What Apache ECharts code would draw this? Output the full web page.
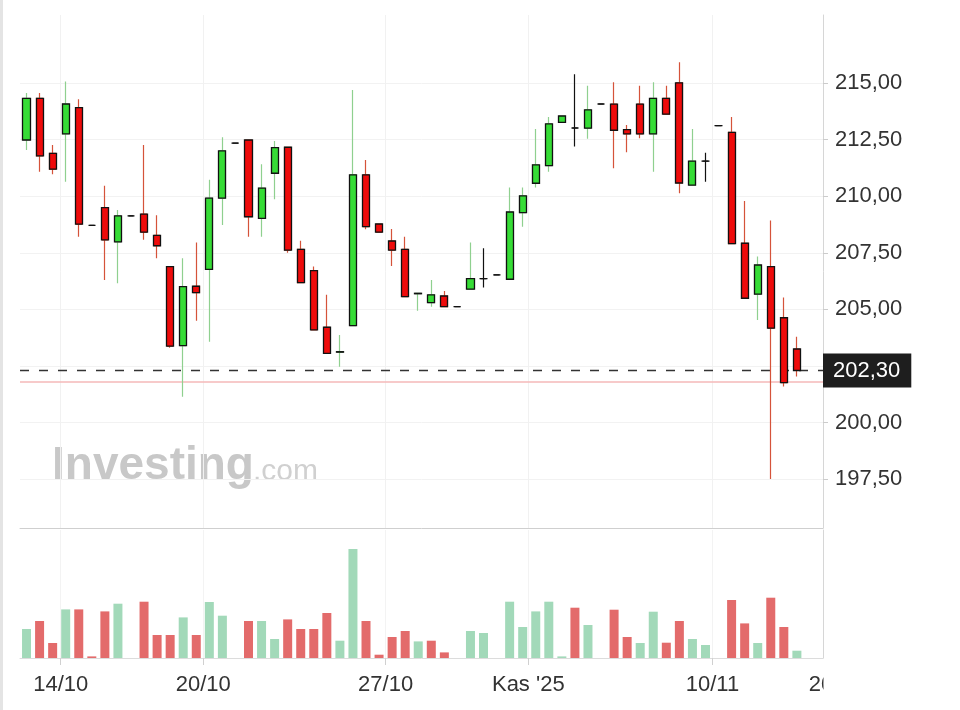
<!DOCTYPE html>
<html><head><meta charset="utf-8">
<script src="https://cdn.jsdelivr.net/npm/echarts@6/dist/echarts.min.js"></script>
<style>html,body{margin:0;padding:0;background:#fff}#c{width:960px;height:710px}</style>
</head><body><div id="c"></div>
<script>
// ---- data ----
const openP  = [212.48,214.32,211.89,212.75,213.91,208.71,209.49,207.98,209.13,209.21,
                208.27,206.89,203.40,206.02,206.77,209.91,212.34,212.48,209.02,211.01,
                212.16,207.65,206.71,204.21,203.11,204.28,210.94,208.77,208.02,207.65,
                205.69,205.30,205.59,205.12,205.89,206.36,206.52,206.33,209.27,210.57,
                211.35,213.26,213.01,213.00,214.07,214.06,212.94,214.06,212.75,214.32,
                215.00,210.49,211.55,213.11,212.82,207.92,205.67,206.89,204.63,203.25];
const highP  = [214.55,214.55,212.26,215.06,214.28,208.71,210.46,209.39,209.13,212.26,
                209.16,206.89,207.26,207.95,210.72,212.60,212.34,212.48,211.41,212.44,
                212.16,208.03,206.89,205.64,203.87,214.69,211.60,208.77,208.55,208.21,
                205.71,206.30,205.81,205.12,207.95,207.70,206.52,210.38,210.38,212.97,
                213.49,213.54,215.38,214.87,214.07,215.03,213.14,214.87,215.03,214.87,
                215.91,212.97,211.92,213.11,213.49,209.79,207.33,208.92,205.52,203.79];
const lowP   = [212.04,211.08,210.97,210.64,208.21,208.71,206.30,206.15,209.13,208.07,
                207.26,203.31,201.14,204.50,203.57,208.73,212.34,208.21,208.21,209.86,
                207.50,206.18,204.09,203.06,202.47,204.28,208.54,208.41,206.92,205.56,
                204.94,205.12,205.12,205.12,205.89,205.96,206.52,206.33,208.65,210.38,
                211.08,213.26,212.19,212.53,214.07,211.23,211.94,212.56,211.08,213.62,
                210.13,210.49,210.64,213.11,207.90,205.49,204.53,197.51,201.59,202.03];
const closeP = [214.32,211.78,211.19,214.07,208.76,208.71,208.07,209.13,209.13,208.41,
                207.81,203.38,206.00,205.74,209.91,212.00,212.34,209.09,210.35,212.14,
                207.62,206.18,204.09,203.06,203.13,210.94,208.65,208.41,207.62,205.56,
                205.71,205.64,205.12,205.12,206.36,206.36,206.52,209.30,210.01,211.38,
                213.19,213.54,213.01,213.81,214.07,212.91,212.75,212.75,214.32,213.62,
                210.58,211.55,211.55,213.11,207.90,205.49,206.96,204.17,201.76,202.30];
const volumeM = [2.90,3.70,1.50,4.86,4.86,0.16,4.66,5.43,0,5.63,
                 2.30,2.30,4.06,2.30,5.60,4.23,0,3.70,3.70,1.90,
                 3.86,2.90,2.90,4.50,1.73,10.90,3.70,0.33,2.10,2.70,
                 1.66,1.73,0.56,0,2.70,2.50,0,5.63,3.10,4.66,
                 5.63,0.16,5.03,3.30,0,4.83,2.10,1.50,4.63,1.53,
                 3.70,1.90,1.30,0,5.80,3.46,1.50,6.03,3.10,0.73];
const xTickLabels = ['14/10', '20/10', '27/10', "Kas '25", '10/11'];
const xTickSlots  = [2.62, 13.53, 27.5, 38.43, 52.53];
const xCutLabel = '20/11';
const xCutSlot  = 61.96;
const yTickValues = [197.5, 200, 202.5, 205, 207.5, 210, 212.5, 215];
const lastPrice = 202.30;
const refLevel  = 201.80;

// ---- styles ----
const BODY_UP = '#36dc36', BODY_DN = '#ee0b0b';
const WICK_UP = '#8fd08f', WICK_DN = '#d5533a';
const VOL_UP = '#a2d9b9', VOL_DN = '#e36b6b';
const FONT = '"Liberation Sans", Arial, sans-serif';
const fmt = v => v.toFixed(2).replace('.', ',');

const N = openP.length;
const wickData = [], bodyData = [], volData = [];
for (let i = 0; i < N; i++) {
  const o = openP[i], c = closeP[i], l = lowP[i], h = highP[i];
  const w = { value: [i, o, c, l, h] };
  if (o === c) w.itemStyle = { borderColor: '#111', borderColor0: '#111', borderColorDoji: '#111' };
  wickData.push(w);
  bodyData.push([i, o, c, Math.min(o, c), Math.max(o, c)]);
  const up = i === 0 || c >= closeP[i - 1];
  volData.push({ value: [i, volumeM[i]], itemStyle: { color: up ? VOL_UP : VOL_DN } });
}

const chart = echarts.init(document.getElementById('c'), null, { renderer: 'canvas' });
const xMin = -0.5, xMax = 61;
const option = {
  animation: false,
  backgroundColor: '#fff',
  textStyle: { fontFamily: FONT },
  grid: [
    { left: 20, right: 137, top: 15, height: 513, outerBoundsMode: 'none', containLabel: false },
    { left: 20, right: 137, top: 530, height: 128, outerBoundsMode: 'none', containLabel: false }
  ],
  xAxis: [
    { type: 'value', gridIndex: 0, min: xMin, max: xMax,
      axisLine: { show: true, onZero: false, lineStyle: { color: '#cfcfcf', width: 1 } },
      axisTick: { show: false, customValues: xTickSlots },
      axisLabel: { show: false },
      splitLine: { show: true, lineStyle: { color: '#f1f1f1', width: 1 } } },
    { type: 'value', gridIndex: 1, min: xMin, max: xMax,
      axisLine: { show: true, onZero: false, lineStyle: { color: '#dcdcdc', width: 1 } },
      axisTick: { show: true, customValues: xTickSlots, length: 7, lineStyle: { color: '#d0d0d0' } },
      axisLabel: { show: true, customValues: xTickSlots, fontSize: 22, color: '#333', margin: 16, fontFamily: FONT,
        formatter: v => { const k = xTickSlots.findIndex(s => Math.abs(s - v) < 1e-6); return k >= 0 ? xTickLabels[k] : ''; } },
      splitLine: { show: true, lineStyle: { color: '#f3f3f3', width: 1 } } }
  ],
  yAxis: [
    { type: 'value', gridIndex: 0, position: 'right', min: 195.344, max: 218,
      axisLine: { show: true, onZero: false, lineStyle: { color: '#d6d6d6', width: 1 } },
      axisTick: { show: true, customValues: yTickValues, length: 5, lineStyle: { color: '#cccccc' } },
      axisLabel: { show: true, customValues: yTickValues, fontSize: 22, color: '#333', margin: 12, fontFamily: FONT,
        formatter: v => fmt(v) },
      splitLine: { show: true, lineStyle: { color: '#f2f2f2', width: 1 } } },
    { type: 'value', gridIndex: 1, position: 'right', min: 0, max: 12.8,
      axisLine: { show: true, onZero: false, lineStyle: { color: '#d6d6d6', width: 1 } },
      axisTick: { show: false }, axisLabel: { show: false }, splitLine: { show: false } }
  ],
  series: [
    { name: 'wick', type: 'candlestick', xAxisIndex: 0, yAxisIndex: 0, barWidth: 6, z: 2,
      itemStyle: { color: WICK_UP, color0: WICK_DN, borderColor: WICK_UP, borderColor0: WICK_DN,
                   borderColorDoji: '#111', borderWidth: 1.2 },
      data: wickData,
      markLine: { silent: true, symbol: ['none', 'none'], z: 1, animation: false,
        data: [
          { yAxis: refLevel, lineStyle: { color: '#f5b8b8', width: 1.6, type: 'solid' }, label: { show: false } },
          { yAxis: lastPrice, lineStyle: { color: '#333', width: 1.4, type: [9, 10] },
            label: { show: true, position: 'end', distance: 0, formatter: fmt(lastPrice),
              color: '#fff', fontSize: 22, fontFamily: FONT, backgroundColor: '#1e1e1e',
              padding: [6, 11, 6, 10], borderRadius: 0 } }
        ] } },
    { name: 'body', type: 'candlestick', xAxisIndex: 0, yAxisIndex: 0, barWidth: 7.6, z: 3,
      itemStyle: { color: BODY_UP, color0: BODY_DN, borderColor: '#111', borderColor0: '#111',
                   borderColorDoji: '#111', borderWidth: 1.3 },
      data: bodyData },
    { name: 'volume', type: 'bar', xAxisIndex: 1, yAxisIndex: 1, barWidth: 9, data: volData }
  ],
  graphic: [
    { type: 'rect', left: 0, top: 0, shape: { width: 3, height: 710 }, style: { fill: '#e4e4e4' }, silent: true, z: 0 },
    { type: 'text', left: 52, top: 443, z: 0, silent: true,
      style: { text: 'Investing', font: 'bold 46px ' + FONT, fill: '#c8c8c8' } },
    { type: 'text', left: 253, top: 457, z: 0, silent: true,
      style: { text: '.com', font: '30px ' + FONT, fill: '#d0d0d0' } }
  ]
};
chart.setOption(option);

// partially visible last date label, cut at the right edge of the plot
const cx = chart.convertToPixel({ xAxisIndex: 1 }, xCutSlot);
const baseY = chart.convertToPixel({ yAxisIndex: 1 }, 0);
const edgeX = chart.convertToPixel({ xAxisIndex: 1 }, xMax);
chart.setOption({ graphic: [
  option.graphic[0], option.graphic[1], option.graphic[2],
  { type: 'text', z: 10, silent: true, style: { x: cx, y: baseY + 16, text: xCutLabel, align: 'center', verticalAlign: 'top',
      font: '22px ' + FONT, fill: '#333' } },
  { type: 'rect', z: 11, silent: true, shape: { x: edgeX + 0.5, y: baseY + 10, width: 80, height: 40 }, style: { fill: '#fff' } }
] });
</script></body></html>
